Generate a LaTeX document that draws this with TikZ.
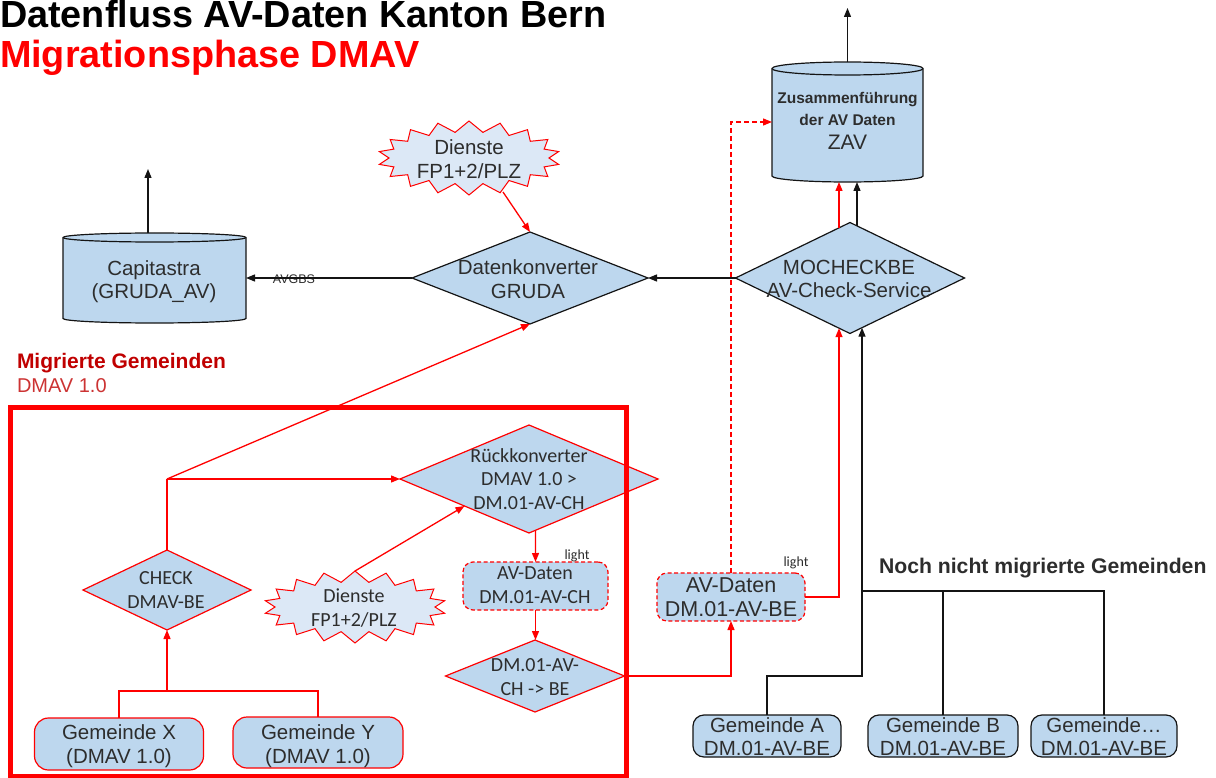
\documentclass[tikz,border=0pt]{standalone}
\usepackage{fontspec}
\setmainfont{Liberation Sans}
\newfontfamily\calfont{Carlito}
\usetikzlibrary{shapes.geometric,shapes.symbols,arrows.meta,calc}
\definecolor{boxblue}{RGB}{189,215,238}
\definecolor{burstblue}{RGB}{220,232,246}
\definecolor{txtgray}{RGB}{45,45,45}
\definecolor{darkred}{RGB}{192,0,0}
\definecolor{softred}{RGB}{204,51,51}
\definecolor{lineblack}{RGB}{20,20,20}
\begin{document}
\begin{tikzpicture}[x=1pt,y=-1pt,
  every node/.style={inner sep=0pt, outer sep=0pt},
  ar/.style={font=\fontsize{20.5}{23.5}\selectfont, text=txtgray, align=center},
  ca/.style={font=\calfont\fontsize{20}{23.5}\selectfont, text=txtgray, align=center},
  blkshape/.style={draw=lineblack, line width=1.2pt, fill=boxblue},
  redshape/.style={draw=red, line width=1.2pt, fill=boxblue},
  dia/.style={diamond},
  rbox/.style={rectangle, rounded corners=#1},
  burst/.style={starburst, starburst points=18, starburst point height=11pt, random starburst=0, draw=red, line width=1pt, fill=burstblue},
  dashbox/.style={draw=red, line width=1.2pt, dash pattern=on 4pt off 2.5pt, fill=boxblue, rounded corners=10pt},
  barr/.style={draw=lineblack, line width=1.3pt, -{Triangle[length=9pt,width=7pt]}},
  bline/.style={draw=lineblack, line width=1.3pt},
  rarr/.style={draw=red, line width=1.3pt, -{Triangle[length=9pt,width=7pt]}},
  rline/.style={draw=red, line width=1.3pt},
  rdash/.style={draw=red, line width=1.3pt, dash pattern=on 5pt off 3pt, -{Triangle[length=9pt,width=7pt]}},
  cylfill/.style={fill=boxblue, draw=lineblack, line width=1.2pt}
]
\useasboundingbox (0,0) rectangle (1216,778);

% titles
\node[anchor=base west, font=\fontsize{37.8}{40}\selectfont\bfseries] (title1) at (0,27.5) {Datenfluss AV-Daten Kanton Bern};
\node[anchor=base west, font=\fontsize{37.8}{40}\selectfont\bfseries, text=red] (title2) at (0,68) {Migrationsphase DMAV};

% ZAV cylinder
\node[minimum width=151pt, minimum height=120pt] (zav) at (847.5,122) {};
\path[cylfill] (772,68.5) -- (772,176) arc[start angle=180,end angle=0,x radius=75.5,y radius=6] -- (923,68.5) arc[start angle=0,end angle=-180,x radius=75.5,y radius=6.5] -- cycle;
\draw[lineblack, line width=1.2pt] (772,68.5) arc[start angle=180,end angle=0,x radius=75.5,y radius=6.5];
\node[anchor=base, font=\fontsize{15.5}{18}\selectfont\bfseries, text=txtgray] (zavt1) at (847.5,104) {Zusammenführung};
\node[anchor=base, font=\fontsize{15.5}{18}\selectfont\bfseries, text=txtgray] (zavt2) at (847.5,126) {der AV Daten};
\node[anchor=base, font=\fontsize{21}{24}\selectfont, text=txtgray] (zavt3) at (847.5,150) {ZAV};
\coordinate (zavout) at (847.5,8);

% Capitastra cylinder
\node[minimum width=183pt, minimum height=90pt] (cap) at (154.5,278) {};
\path[cylfill] (63,237.5) -- (63,318.5) arc[start angle=180,end angle=0,x radius=91.5,y radius=4.5] -- (246,237.5) arc[start angle=0,end angle=-180,x radius=91.5,y radius=4.5] -- cycle;
\draw[lineblack, line width=1.2pt] (63,237.5) arc[start angle=180,end angle=0,x radius=91.5,y radius=4.5];
\node[ar] (capt) at (154,281.5) {Capitastra\\(GRUDA\_AV)};
\coordinate (capout) at (148,169);

% Datenkonverter
\node[dia, blkshape, minimum width=236pt, minimum height=92pt] (dk) at (530,278) {};
\node[ar] (dkt) at (528,279) {Datenkonverter\\GRUDA};

% MOCHECKBE
\node[dia, blkshape, minimum width=229pt, minimum height=111pt] (mo) at (850,278) {};
\node[ar] (mot) at (849,279) {MOCHECKBE\\AV-Check-Service};

% Dienste top
\node[burst, minimum width=182pt, minimum height=74pt] (d1) at (469,158) {};
\node[ar] (d1t) at (469,159) {Dienste\\FP1+2/PLZ};

% AVGBS label
\node[font=\fontsize{12.5}{14}\selectfont, text=txtgray] (avgbs) at (294,279.5) {AVGBS};

% group labels
\node[anchor=base west, font=\fontsize{21}{23}\selectfont\bfseries, text=darkred] (mig1) at (17,368) {Migrierte Gemeinden};
\node[anchor=base west, font=\fontsize{20}{23}\selectfont, text=softred] (mig2) at (17,392) {DMAV 1.0};

% Rückkonverter
\node[dia, redshape, minimum width=258pt, minimum height=108pt] (rk) at (529,479) {};
\node[ca] (rkt) at (529,479) {Rückkonverter\\DMAV 1.0 >\\DM.01-AV-CH};

% CHECK
\node[dia, redshape, minimum width=168pt, minimum height=80pt] (ck) at (167,590) {};
\node[ca] (ckt) at (166,590) {CHECK\\DMAV-BE};

% Dienste lower
\node[burst, minimum width=182pt, minimum height=72pt] (d2) at (355,607) {};
\node[ca] (d2t) at (354,608) {Dienste\\FP1+2/PLZ};

% AV-Daten CH
\node[dashbox, minimum width=145pt, minimum height=48pt] (avch) at (535.5,586) {};
\node[ca] (avcht) at (535,585) {AV-Daten\\DM.01-AV-CH};
\node[font=\calfont\fontsize{14}{16}\selectfont, text=txtgray] (light1) at (577,556) {light};

% DM.01 -> BE
\node[dia, redshape, minimum width=179pt, minimum height=72pt] (dm) at (535,676) {};
\node[ca] (dmt) at (535,677) {DM.01-AV-\\CH -> BE};

% Gemeinde X / Y
\node[rbox=14pt, redshape, minimum width=169pt, minimum height=52pt] (gx) at (119,744) {};
\node[ar] (gxt) at (119,746) {Gemeinde X\\(DMAV 1.0)};
\node[rbox=14pt, redshape, minimum width=170pt, minimum height=51pt] (gy) at (318,742.5) {};
\node[ar] (gyt) at (318,746) {Gemeinde Y\\(DMAV 1.0)};

% AV-Daten BE
\node[dashbox, minimum width=148pt, minimum height=48pt] (avbe) at (731,597) {};
\node[ar, font=\fontsize{21.5}{24}\selectfont] (avbet) at (731,597.5) {AV-Daten\\DM.01-AV-BE};
\node[font=\calfont\fontsize{14}{16}\selectfont, text=txtgray] (light2) at (796,563) {light};

% Gemeinde A / B / ...
\node[rbox=11pt, blkshape, minimum width=148pt, minimum height=42pt] (ga) at (767,736) {};
\node[ar] (gat) at (767,736.5) {Gemeinde A\\DM.01-AV-BE};
\node[rbox=11pt, blkshape, minimum width=150pt, minimum height=42pt] (gb) at (943,736) {};
\node[ar] (gbt) at (943,736.5) {Gemeinde B\\DM.01-AV-BE};
\node[rbox=11pt, blkshape, minimum width=146pt, minimum height=42pt] (gd) at (1104,736) {};
\node[ar] (gdt) at (1104,736.5) {Gemeinde…\\DM.01-AV-BE};
\node[anchor=base west, font=\fontsize{21.2}{23}\selectfont\bfseries, text=txtgray] (noch) at (879,573) {Noch nicht migrierte Gemeinden};

% frame
\node[draw=red, line width=5pt, minimum width=616pt, minimum height=369pt] (frame) at (318,591.5) {};

% helper coordinates on diamond borders
\coordinate (moT1) at ($(mo.north)!0.096!(mo.west)$);
\coordinate (moT2) at ($(mo.north)!0.061!(mo.east)$);
\coordinate (moB1) at ($(mo.south)!0.096!(mo.west)$);
\coordinate (moB2) at ($(mo.south)!0.105!(mo.east)$);
\coordinate (j1) at (ck.north |- rk.west);
\coordinate (jx) at (167,691);
\coordinate (jb) at (862,591);

% connectors black
\draw[barr] (zav.north) -- (zavout);
\draw[barr] (cap.north -| capout) -- (capout);
\draw[barr] (dk.west) -- (cap.east);
\draw[barr] (mo.west) -- (dk.east);
\draw[barr] (moT2) -- (moT2 |- zav.south);
\draw[barr] (ga.north) -- ++(0,-39) -| (moB2);
\draw[bline] (gb.north) |- (jb);
\draw[bline] (gd.north) |- (jb);

% connectors red
\draw[rarr] (moT1) -- (moT1 |- zav.south);
\draw[rarr] ($(d1.center)+(34,34)$) -- (dk.north);
\draw[rline] (ck.north) -- (j1);
\draw[rarr] (j1) -- (rk.west);
\draw[rarr] (j1) -- (dk.south);
\draw[rarr] (d2.north) -- ($(rk.west)!0.5!(rk.south)$);
\draw[rarr] ($(rk.south)!0.05!(rk.east)$) -- (avch.north);
\draw[rarr] (avch.south) -- (avch.south |- dm.north);
\draw[rarr] (dm.east) -| (avbe.south);
\draw[rarr] (avbe.east) -| (moB1);
\draw[rdash] (avbe.north) |- (zav.west);
\draw[rline] (gx.north) |- (jx) -| (gy.north);
\draw[rarr] (jx) -- (ck.south);
\end{tikzpicture}
\end{document}
